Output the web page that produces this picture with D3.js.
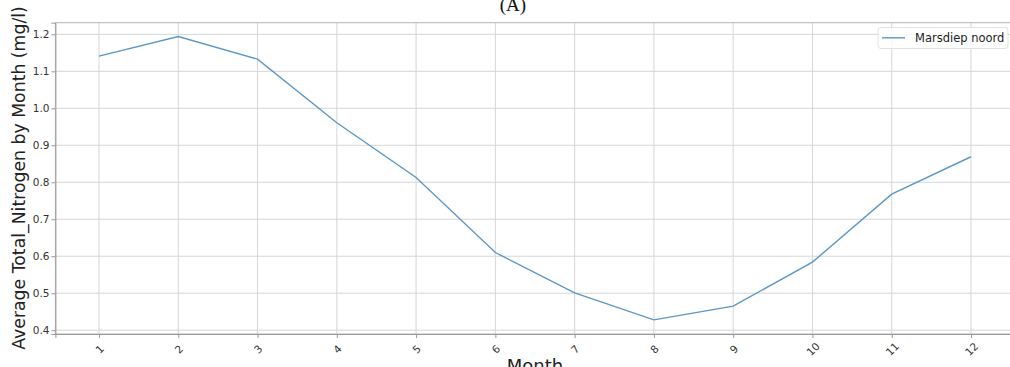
<!DOCTYPE html>
<html>
<head>
<meta charset="utf-8">
<script src="https://cdn.jsdelivr.net/npm/d3@7"></script>
<style>
  html, body { margin: 0; padding: 0; background: #fff; overflow: hidden; }
  svg { display: block; }
</style>
</head>
<body>
<svg id="chart" width="1010" height="367"></svg>
<script>
// Monthly average total nitrogen (mg/l) at the Marsdiep noord station
const months = [1, 2, 3, 4, 5, 6, 7, 8, 9, 10, 11, 12];
const nitrogen = [1.141, 1.194, 1.133, 0.961, 0.813, 0.610, 0.501, 0.428, 0.465, 0.584, 0.768, 0.869];
const yTicks = [0.4, 0.5, 0.6, 0.7, 0.8, 0.9, 1.0, 1.1, 1.2];
const seriesName = "Marsdiep noord";

const svg = d3.select("#chart");
const plotLeft = 55.4, plotRight = 1014.6, plotTop = 22.7, plotBottom = 334;

const x = d3.scaleLinear().domain([0.45, 12.55]).range([plotLeft, plotRight]);
const y = d3.scaleLinear().domain([0.3897, 1.2315]).range([plotBottom, plotTop]);

// grid lines
const grid = svg.append("g");
grid.selectAll("line.gx").data(months).enter().append("line")
  .attr("x1", d => x(d)).attr("x2", d => x(d))
  .attr("y1", plotTop).attr("y2", plotBottom)
  .attr("stroke", "#d6d6d6").attr("stroke-width", 1);
grid.selectAll("line.gy").data(yTicks).enter().append("line")
  .attr("x1", plotLeft).attr("x2", plotRight)
  .attr("y1", d => y(d)).attr("y2", d => y(d))
  .attr("stroke", "#d6d6d6").attr("stroke-width", 1);

// frame
svg.append("rect")
  .attr("x", plotLeft).attr("y", plotTop)
  .attr("width", plotRight - plotLeft).attr("height", plotBottom - plotTop)
  .attr("fill", "none").attr("stroke", "#b5b5b5").attr("stroke-width", 1);

// y axis
const yAxis = svg.append("g")
  .attr("transform", `translate(${plotLeft},0)`)
  .call(d3.axisLeft(y).tickValues(yTicks).tickFormat(d3.format(".1f")).tickSize(4).tickPadding(2));
yAxis.select(".domain").attr("stroke", "#9a9a9a");
yAxis.selectAll(".tick line").attr("stroke", "#9a9a9a");
yAxis.selectAll(".tick text")
  .attr("font-family", "DejaVu Sans, sans-serif")
  .attr("font-size", 10.5).attr("fill", "#333");

// x axis
const xAxis = svg.append("g")
  .attr("transform", `translate(0,${plotBottom})`)
  .call(d3.axisBottom(x).tickValues(months).tickFormat(d3.format("d")).tickSize(4));
xAxis.select(".domain").attr("stroke", "#9a9a9a");
xAxis.selectAll(".tick line").attr("stroke", "#9a9a9a");
xAxis.selectAll(".tick text")
  .attr("font-family", "DejaVu Sans, sans-serif")
  .attr("font-size", 10.5).attr("fill", "#333")
  .attr("text-anchor", "middle")
  .attr("dominant-baseline", "central")
  .attr("dy", null)
  .attr("y", 15)
  .attr("transform", "rotate(-45,0,15)");

// data line
const line = d3.line().x((d, i) => x(months[i])).y(d => y(d));
svg.append("path")
  .datum(nitrogen)
  .attr("d", line)
  .attr("fill", "none")
  .attr("stroke", "#5b97c7")
  .attr("stroke-width", 1.4);

// legend
const lg = svg.append("g");
lg.append("rect")
  .attr("x", 878).attr("y", 27.5).attr("width", 130).attr("height", 21)
  .attr("rx", 3).attr("fill", "#fff").attr("fill-opacity", 0.85)
  .attr("stroke", "#e2e2e2");
lg.append("line")
  .attr("x1", 882).attr("x2", 905).attr("y1", 37.8).attr("y2", 37.8)
  .attr("stroke", "#5b97c7").attr("stroke-width", 1.4);
lg.append("text")
  .attr("x", 915).attr("y", 38)
  .attr("dominant-baseline", "central")
  .attr("font-family", "DejaVu Sans, sans-serif")
  .attr("font-size", 11.5).attr("fill", "#222")
  .text(seriesName);

// axis titles
svg.append("text")
  .attr("transform", "translate(25,178) rotate(-90)")
  .attr("text-anchor", "middle")
  .attr("font-family", "DejaVu Sans, sans-serif")
  .attr("font-size", 17.3).attr("fill", "#222")
  .text("Average Total_Nitrogen by Month (mg/l)");

svg.append("text")
  .attr("x", (plotLeft + plotRight) / 2).attr("y", 372)
  .attr("text-anchor", "middle")
  .attr("font-family", "DejaVu Sans, sans-serif")
  .attr("font-size", 18).attr("fill", "#222")
  .text("Month");

// panel label
svg.append("text")
  .attr("x", 513).attr("y", 11)
  .attr("text-anchor", "middle")
  .attr("font-family", "Liberation Serif, serif")
  .attr("font-size", 19).attr("fill", "#111")
  .text("(A)");
</script>
</body>
</html>
